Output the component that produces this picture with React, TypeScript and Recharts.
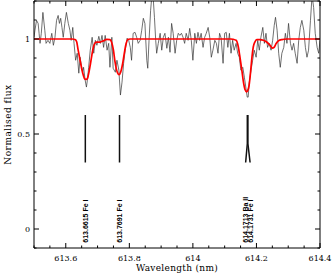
import { ComposedChart, Line, Scatter, XAxis, YAxis } from 'recharts';

const obsWave = [
  613.5, 613.503, 613.508, 613.513, 613.516, 613.519, 613.523, 613.528, 613.534, 613.538,
  613.544, 613.55, 613.556, 613.561, 613.566, 613.571, 613.576, 613.58, 613.584, 613.588,
  613.592, 613.597, 613.602, 613.608, 613.613, 613.617, 613.622, 613.626, 613.631, 613.636,
  613.641, 613.645, 613.649, 613.653, 613.656, 613.661, 613.665, 613.668, 613.672, 613.677,
  613.683, 613.688, 613.693, 613.698, 613.704, 613.709, 613.714, 613.719, 613.724, 613.73,
  613.735, 613.739, 613.745, 613.749, 613.756, 613.761, 613.767, 613.772, 613.777, 613.782,
  613.787, 613.793, 613.798, 613.803, 613.807, 613.812, 613.818, 613.823, 613.828, 613.834,
  613.839, 613.844, 613.849, 613.855, 613.858, 613.862, 613.867, 613.871, 613.875, 613.879,
  613.883, 613.886, 613.891, 613.897, 613.902, 613.907, 613.912, 613.918, 613.923, 613.928,
  613.933, 613.938, 613.944, 613.949, 613.954, 613.959, 613.964, 613.969, 613.974, 613.979,
  613.985, 613.99, 613.995, 614.0, 614.006, 614.011, 614.016, 614.021, 614.026, 614.032,
  614.037, 614.042, 614.048, 614.053, 614.058, 614.063, 614.069, 614.074, 614.079, 614.084,
  614.089, 614.095, 614.1, 614.105, 614.11, 614.115, 614.12, 614.125, 614.13, 614.136,
  614.141, 614.146, 614.151, 614.157, 614.162, 614.167, 614.171, 614.174, 614.177, 614.183,
  614.188, 614.193, 614.199, 614.204, 614.209, 614.214, 614.22, 614.225, 614.23, 614.235,
  614.24, 614.246, 614.251, 614.256, 614.26, 614.265, 614.27, 614.275, 614.28, 614.286,
  614.291, 614.296, 614.301, 614.307, 614.312, 614.317, 614.322, 614.328, 614.333, 614.338,
  614.343, 614.349, 614.354, 614.359, 614.364, 614.37, 614.375, 614.38, 614.385, 614.391,
  614.396, 614.4,
];
const obsFlux = [
  1.009, 1.046, 1.098, 1.082, 1.03, 0.977, 1.03, 1.14, 1.046, 0.977,
  0.993, 0.977, 1.03, 0.967, 1.009, 1.098, 1.124, 1.082, 1.109, 1.061,
  1.009, 1.082, 1.14, 1.082, 1.046, 0.993, 1.061, 0.977, 0.888, 0.925,
  0.82, 0.904, 0.862, 0.825, 0.851, 0.783, 0.747, 0.783, 0.851, 0.941,
  1.009, 0.925, 0.993, 0.967, 1.014, 0.977, 1.019, 0.956, 1.019, 0.941,
  0.977, 0.851, 1.009, 0.846, 0.825, 0.888, 0.836, 0.705, 0.773, 0.872,
  0.941, 1.004, 0.993, 0.956, 0.888, 1.03, 1.035, 1.009, 0.977, 0.993,
  1.046, 1.109, 1.082, 0.888, 0.846, 0.993, 1.151, 1.229, 1.219, 1.114,
  0.993, 0.925, 0.977, 1.03, 0.941, 1.009, 1.03, 0.951, 1.009, 0.93,
  1.082, 1.03, 0.925, 0.993, 1.03, 1.019, 1.03, 1.009, 0.977, 1.03,
  0.993, 1.056, 0.993, 0.888, 1.03, 0.977, 1.035, 0.993, 1.03, 0.956,
  1.009, 1.03, 1.061, 1.009, 0.904, 0.941, 0.993, 0.977, 0.925, 1.03,
  1.004, 0.872, 1.03, 1.035, 0.956, 1.03, 0.925, 0.993, 0.941, 0.977,
  0.925, 0.904, 0.836, 0.851, 0.799, 0.741, 0.694, 0.694, 0.767, 0.836,
  0.888, 0.941, 0.904, 0.993, 0.941, 1.009, 1.061, 0.977, 1.03, 0.956,
  0.977, 0.941, 0.993, 1.072, 1.114, 1.046, 0.925, 0.851, 0.925, 0.956,
  1.03, 0.977, 1.082, 0.977, 0.941, 0.977, 0.925, 0.872, 0.993, 1.061,
  1.098, 1.046, 0.956, 0.904, 0.941, 1.098, 1.229, 1.166, 1.03, 0.956,
  0.925, 0.993,
];

// synthetic fit (red)
const fitWave = [
  613.5, 613.62, 613.629, 613.634, 613.639, 613.645, 613.65, 613.655, 613.66, 613.664,
  613.668, 613.671, 613.676, 613.682, 613.687, 613.692, 613.697, 613.708, 613.718, 613.729,
  613.739, 613.744, 613.75, 613.755, 613.76, 613.765, 613.768, 613.773, 613.779, 613.784,
  613.79, 613.795, 613.802, 614.12, 614.127, 614.136, 614.143, 614.148, 614.154, 614.159,
  614.164, 614.169, 614.172, 614.177, 614.18, 614.183, 614.186, 614.19, 614.195, 614.201,
  614.211, 614.222, 614.232, 614.243, 614.25, 614.255, 614.262, 614.269, 614.28, 614.295,
  614.4,
];
const fitFlux = [
  1.0, 1.0, 0.997, 0.987, 0.941, 0.888, 0.845, 0.81, 0.789, 0.787,
  0.792, 0.81, 0.853, 0.914, 0.958, 0.979, 0.984, 0.984, 0.99, 0.998,
  0.997, 0.984, 0.941, 0.879, 0.836, 0.815, 0.813, 0.827, 0.871, 0.923,
  0.976, 0.997, 1.0, 1.0, 0.998, 0.993, 0.958, 0.906, 0.836, 0.774,
  0.734, 0.722, 0.727, 0.757, 0.801, 0.853, 0.906, 0.958, 0.984, 0.997,
  0.997, 0.993, 0.984, 0.967, 0.952, 0.955, 0.976, 0.99, 0.997, 1.0,
  1.0,
];

// line identifications
const lineWave = [613.6615, 613.7691, 614.1713, 614.1731];
const lineLabelWave = [613.6615, 613.7691, 614.166, 614.18];
const lineNames = ['613.6615 Fe I', '613.7691 Fe I', '614.1713 Ba II', '614.1731 Fe I'];
const markerLevels = [0.6, 0.45, 0.35];
const labelLevel = -0.072;

const xMajor = [613.6, 613.8, 614, 614.2, 614.4];
const xTicks = [
  613.5, 613.55, 613.6, 613.65, 613.7, 613.75, 613.8, 613.85, 613.9, 613.95,
  614, 614.05, 614.1, 614.15, 614.2, 614.25, 614.3, 614.35, 614.4,
];
const yMajor = [0, 0.5, 1];
const yTicks = [-0.1, 0, 0.1, 0.2, 0.3, 0.4, 0.5, 0.6, 0.7, 0.8, 0.9, 1, 1.1, 1.2];

const obs = obsWave.map((x, i) => ({ x, y: obsFlux[i] }));
const fit = fitWave.map((x, i) => ({ x, y: fitFlux[i] }));
const markers = lineWave.map((w, i) => [
  { x: w, y: markerLevels[0] },
  { x: w, y: markerLevels[1] },
  { x: lineLabelWave[i], y: markerLevels[2] },
]);
const labels = lineLabelWave.map((x, i) => ({ x, y: labelLevel, text: lineNames[i] }));

const tickFont = 'DejaVu Serif';

const isMajor = (v: number, majors: number[]) => majors.some((m) => Math.abs(m - v) < 1e-6);

function makeTick(side: 'bottom' | 'top' | 'left' | 'right') {
  return (props: any) => {
    const { x, y, payload } = props;
    const v = payload.value;
    const horiz = side === 'bottom' || side === 'top';
    const major = isMajor(v, horiz ? xMajor : yMajor);
    const len = major ? 5 : 2.5;
    let x2 = x;
    let y2 = y;
    if (side === 'bottom') y2 = y - len;
    if (side === 'top') y2 = y + len;
    if (side === 'left') x2 = x + len;
    if (side === 'right') x2 = x - len;
    return (
      <g>
        <line x1={x} y1={y} x2={x2} y2={y2} stroke="#000" strokeWidth={1} />
        {major && side === 'bottom' && (
          <text x={x} y={y + 12.5} textAnchor="middle" fontFamily={tickFont} fontSize={8} fill="#000">
            {String(v)}
          </text>
        )}
        {major && side === 'left' && (
          <text x={x - 4} y={y + 3} textAnchor="end" fontFamily={tickFont} fontSize={8} fill="#000">
            {String(v)}
          </text>
        )}
      </g>
    );
  };
}

const XTitle = (props: any) => {
  const vb = props.viewBox || { x: 34, y: 248, width: 286, height: 26 };
  return (
    <text x={vb.x + vb.width / 2} y={vb.y + 23} textAnchor="middle" fontFamily={tickFont} fontSize={9} letterSpacing={0.3} fill="#000">
      Wavelength (nm)
    </text>
  );
};

const YTitle = (props: any) => {
  const vb = props.viewBox || { x: 0, y: 1, width: 34, height: 247 };
  const cy = vb.y + vb.height / 2;
  return (
    <text x={0} y={0} transform={`translate(10.5, ${cy}) rotate(-90)`} textAnchor="middle" fontFamily={tickFont} fontSize={9} letterSpacing={0.5} fill="#000">
      Normalised flux
    </text>
  );
};

const LineLabel = (props: any) => {
  const { cx, cy, payload } = props;
  return (
    <text x={0} y={0} transform={`translate(${cx + 2.5}, ${cy}) rotate(-90)`} textAnchor="start" fontFamily="Liberation Sans" fontWeight="bold" fontSize={7} fill="#000">
      {payload.text}
    </text>
  );
};

export default function App() {
  return (
    <div style={{ position: 'absolute', left: 0, top: 0, width: 332, height: 274, background: '#fff' }}>
      <ComposedChart width={332} height={274} margin={{ top: 0, right: 0, bottom: 0, left: 0 }}>
        <XAxis
          xAxisId="b"
          type="number"
          dataKey="x"
          domain={[613.5, 614.4]}
          ticks={xTicks}
          interval={0}
          height={26}
          tickSize={0}
          tickMargin={0}
          tickLine={false}
          axisLine={{ stroke: '#000' }}
          tick={makeTick('bottom')}
          allowDataOverflow
          label={XTitle}
        />
        <XAxis
          xAxisId="t"
          orientation="top"
          type="number"
          dataKey="x"
          domain={[613.5, 614.4]}
          ticks={xTicks}
          interval={0}
          height={1}
          tickSize={0}
          tickMargin={0}
          tickLine={false}
          axisLine={{ stroke: '#000' }}
          tick={makeTick('top')}
          allowDataOverflow
        />
        <YAxis
          yAxisId="l"
          type="number"
          dataKey="y"
          domain={[-0.1, 1.2]}
          ticks={yTicks}
          interval={0}
          width={34}
          tickSize={0}
          tickMargin={0}
          tickLine={false}
          axisLine={{ stroke: '#000' }}
          tick={makeTick('left')}
          allowDataOverflow
          label={YTitle}
        />
        <YAxis
          yAxisId="r"
          orientation="right"
          type="number"
          dataKey="y"
          domain={[-0.1, 1.2]}
          ticks={yTicks}
          interval={0}
          width={12}
          tickSize={0}
          tickMargin={0}
          tickLine={false}
          axisLine={{ stroke: '#000' }}
          tick={makeTick('right')}
          allowDataOverflow
        />
        <Line
          xAxisId="b"
          yAxisId="l"
          data={obs}
          dataKey="y"
          type="linear"
          stroke="#333"
          strokeWidth={0.7}
          dot={false}
          isAnimationActive={false}
        />
        <Line
          xAxisId="b"
          yAxisId="l"
          data={fit}
          dataKey="y"
          type="monotone"
          stroke="#ff0000"
          strokeWidth={1.7}
          dot={false}
          isAnimationActive={false}
        />
        {markers.map((m, i) => (
          <Line
            key={i}
            xAxisId="b"
            yAxisId="l"
            data={m}
            dataKey="y"
            type="linear"
            stroke="#111"
            strokeWidth={1.5}
            dot={false}
            isAnimationActive={false}
          />
        ))}
        <Scatter
          xAxisId="b"
          yAxisId="l"
          data={labels}
          dataKey="y"
          shape={LineLabel}
          isAnimationActive={false}
        />
      </ComposedChart>
    </div>
  );
}
